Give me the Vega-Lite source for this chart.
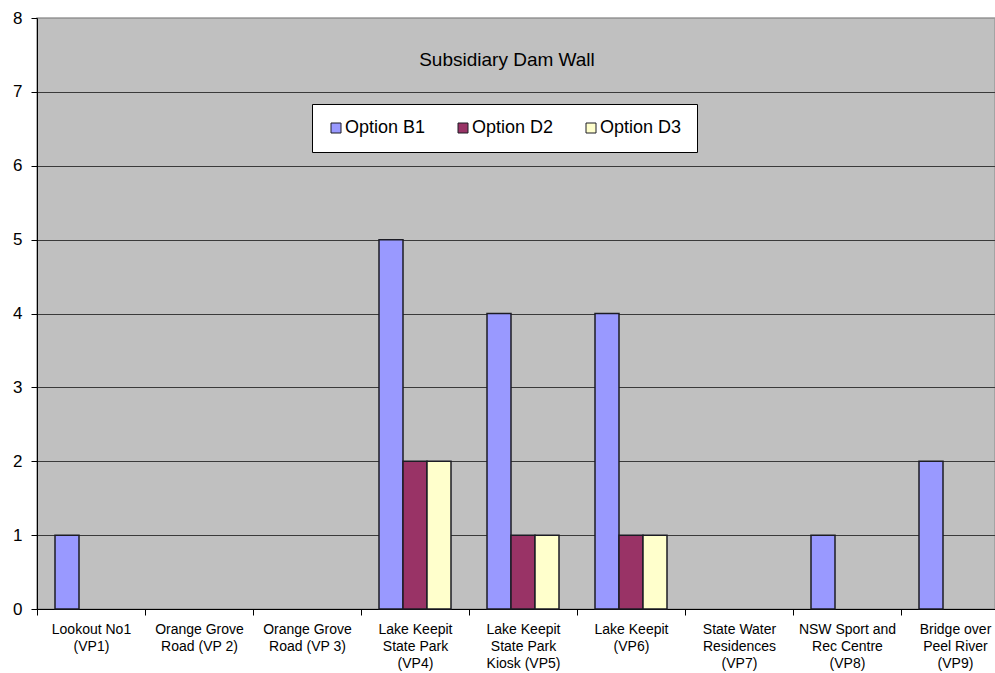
{
  "$schema": "https://vega.github.io/schema/vega-lite/v6.json",
  "autosize": "none",
  "width": 958,
  "height": 591,
  "padding": {"left": 37, "top": 18, "right": 0, "bottom": 64},
  "background": "white",
  "title": {
    "text": "Subsidiary Dam Wall",
    "orient": "top",
    "anchor": "middle",
    "baseline": "middle",
    "offset": -70,
    "dx": -9,
    "font": "Liberation Sans",
    "fontSize": 19,
    "fontWeight": "normal",
    "color": "#000000"
  },
  "data": {
    "values": [
      {"site": "Lookout No1\n(VP1)", "option": "Option B1", "score": 1},
      {"site": "Lake Keepit\nState Park\n(VP4)", "option": "Option B1", "score": 5},
      {"site": "Lake Keepit\nState Park\n(VP4)", "option": "Option D2", "score": 2},
      {"site": "Lake Keepit\nState Park\n(VP4)", "option": "Option D3", "score": 2},
      {"site": "Lake Keepit\nState Park\nKiosk (VP5)", "option": "Option B1", "score": 4},
      {"site": "Lake Keepit\nState Park\nKiosk (VP5)", "option": "Option D2", "score": 1},
      {"site": "Lake Keepit\nState Park\nKiosk (VP5)", "option": "Option D3", "score": 1},
      {"site": "Lake Keepit\n(VP6)", "option": "Option B1", "score": 4},
      {"site": "Lake Keepit\n(VP6)", "option": "Option D2", "score": 1},
      {"site": "Lake Keepit\n(VP6)", "option": "Option D3", "score": 1},
      {"site": "NSW Sport and\nRec Centre\n(VP8)", "option": "Option B1", "score": 1},
      {"site": "Bridge over\nPeel River\n(VP9)", "option": "Option B1", "score": 2}
    ]
  },
  "mark": {"type": "bar", "stroke": "#1c1c24", "strokeWidth": 1.5},
  "encoding": {
    "x": {
      "field": "site",
      "type": "nominal",
      "sort": null,
      "scale": {
        "domain": [
          "Lookout No1\n(VP1)",
          "Orange Grove\nRoad (VP 2)",
          "Orange Grove\nRoad (VP 3)",
          "Lake Keepit\nState Park\n(VP4)",
          "Lake Keepit\nState Park\nKiosk (VP5)",
          "Lake Keepit\n(VP6)",
          "State Water\nResidences\n(VP7)",
          "NSW Sport and\nRec Centre\n(VP8)",
          "Bridge over\nPeel River\n(VP9)"
        ],
        "range": [0, 972],
        "paddingInner": 0,
        "paddingOuter": 0
      },
      "axis": {
        "title": null,
        "labelExpr": "split(datum.label, '\\n')",
        "labelAngle": 0,
        "labelAlign": "center",
        "labelBaseline": "top",
        "labelFont": "Liberation Sans",
        "labelFontSize": 14,
        "labelLineHeight": 17,
        "labelColor": "#000000",
        "labelPadding": 7,
        "labelLimit": 0,
        "tickBand": "extent",
        "tickSize": 6,
        "tickColor": "#000000",
        "domainColor": "#000000",
        "grid": false
      }
    },
    "xOffset": {
      "field": "option",
      "type": "nominal",
      "scale": {
        "domain": ["Option B1", "Option D2", "Option D3"],
        "paddingInner": 0,
        "paddingOuter": 0.75
      }
    },
    "y": {
      "field": "score",
      "type": "quantitative",
      "scale": {"domain": [0, 8], "nice": false},
      "axis": {
        "title": null,
        "values": [0, 1, 2, 3, 4, 5, 6, 7, 8],
        "labelFont": "Liberation Sans",
        "labelFontSize": 17,
        "labelColor": "#000000",
        "labelPadding": 9,
        "tickSize": 6,
        "tickColor": "#000000",
        "domainColor": "#000000",
        "grid": true,
        "gridColor": {
          "condition": {"test": "datum.value === 8", "value": "#9a9a9a"},
          "value": "#3a3a3a"
        },
        "gridWidth": 1
      }
    },
    "color": {
      "field": "option",
      "type": "nominal",
      "scale": {
        "domain": ["Option B1", "Option D2", "Option D3"],
        "range": ["#9999ff", "#993366", "#ffffcc"]
      },
      "legend": {
        "title": null,
        "orient": "none",
        "legendX": 275,
        "legendY": 86,
        "direction": "horizontal",
        "columns": 3,
        "columnPadding": 28,
        "padding": 15,
        "fillColor": "#ffffff",
        "strokeColor": "#000000",
        "symbolType": "square",
        "symbolSize": 100,
        "symbolStrokeColor": "#1c1c24",
        "symbolStrokeWidth": 1,
        "symbolOpacity": 1,
        "labelFont": "Liberation Sans",
        "labelFontSize": 18,
        "labelColor": "#000000",
        "labelOffset": 0
      }
    }
  },
  "config": {
    "view": {"fill": "#c0c0c0", "stroke": "#9a9a9a", "strokeWidth": 1.5},
    "axis": {"domainWidth": 1, "tickWidth": 1}
  }
}
